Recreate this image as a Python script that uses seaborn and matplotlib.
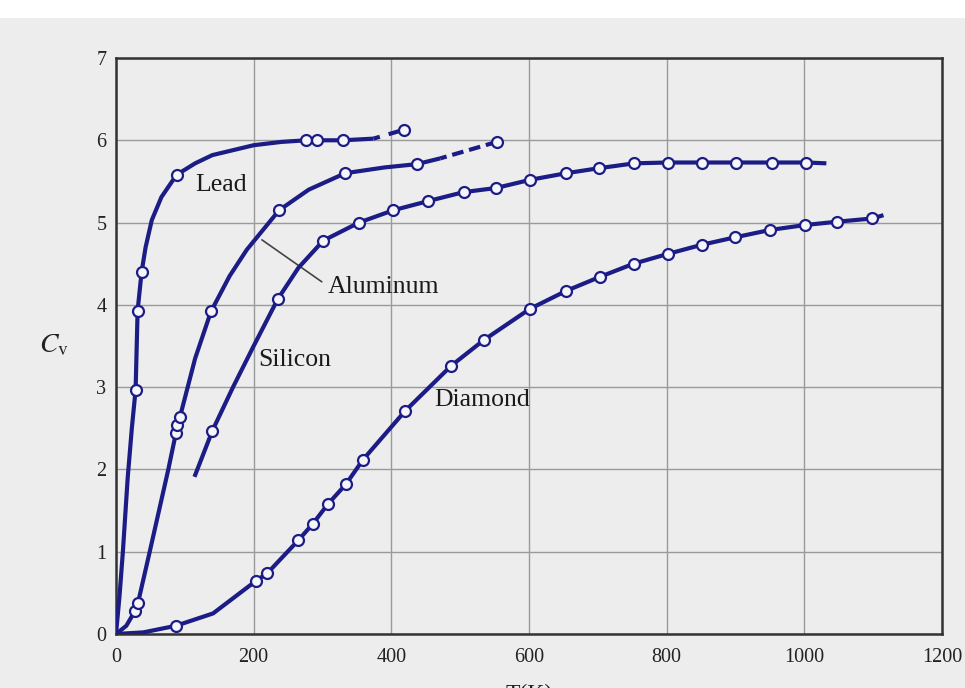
import matplotlib
matplotlib.use("Agg")
import matplotlib.pyplot as plt
from matplotlib.patches import Rectangle
import seaborn as sns
import pandas as pd

# ---------------- data ----------------
T_ticks = [0, 200, 400, 600, 800, 1000, 1200]
C_ticks = [0, 1, 2, 3, 4, 5, 6, 7]

# Lead
lead_curve_T = [0, 5, 10, 17, 23, 28.5, 31.4, 37.2, 43, 52, 66, 88, 115, 140, 200, 240, 276, 292, 330, 374]
lead_curve_C = [0, 0.45, 1.0, 1.9, 2.5, 2.97, 3.93, 4.40, 4.70, 5.03, 5.31, 5.58, 5.72, 5.82, 5.94, 5.98, 6.0, 6.0, 6.0, 6.02]
lead_dash_T = [374, 419]
lead_dash_C = [6.02, 6.13]
lead_pts_T = [28.5, 31.4, 37.2, 88, 276, 292, 330, 419]
lead_pts_C = [2.97, 3.93, 4.40, 5.58, 6.0, 6.0, 6.0, 6.13]

# Aluminum
al_curve_T = [0, 15, 27.6, 32, 49, 76, 87, 89, 93, 115, 138, 165, 190, 237, 280, 333, 390, 437, 471]
al_curve_C = [0, 0.1, 0.28, 0.38, 1.0, 2.0, 2.44, 2.54, 2.64, 3.35, 3.92, 4.35, 4.67, 5.15, 5.40, 5.60, 5.67, 5.71, 5.78]
al_dash_T = [471, 553]
al_dash_C = [5.78, 5.98]
al_pts_T = [27.6, 32, 87, 89, 93, 138, 237, 333, 437, 553]
al_pts_C = [0.28, 0.38, 2.44, 2.54, 2.64, 3.92, 5.15, 5.60, 5.71, 5.98]

# Silicon
si_curve_T = [114, 140, 170, 200, 235, 265, 301, 353, 403, 453, 505, 552, 602, 654, 701, 753, 802, 851, 901, 953, 1003, 1032]
si_curve_C = [1.91, 2.47, 3.0, 3.5, 4.07, 4.45, 4.78, 5.0, 5.15, 5.26, 5.37, 5.42, 5.52, 5.60, 5.66, 5.72, 5.73, 5.73, 5.73, 5.73, 5.73, 5.72]
si_pts_T = [140, 235, 301, 353, 403, 453, 505, 552, 602, 654, 701, 753, 802, 851, 901, 953, 1003]
si_pts_C = [2.47, 4.07, 4.78, 5.0, 5.15, 5.26, 5.37, 5.42, 5.52, 5.60, 5.66, 5.72, 5.73, 5.73, 5.73, 5.73, 5.73]

# Diamond
di_curve_T = [0, 40, 87, 141, 204, 220, 265, 286, 308, 334, 359, 420, 487, 534, 601, 654, 703, 752, 802, 851, 899, 950, 1001, 1047, 1099, 1115]
di_curve_C = [0, 0.02, 0.10, 0.25, 0.65, 0.74, 1.14, 1.34, 1.58, 1.82, 2.12, 2.71, 3.26, 3.57, 3.95, 4.17, 4.34, 4.50, 4.62, 4.73, 4.82, 4.91, 4.97, 5.01, 5.05, 5.09]
di_pts_T = [87, 204, 220, 265, 286, 308, 334, 359, 420, 487, 534, 601, 654, 703, 752, 802, 851, 899, 950, 1001, 1047, 1099]
di_pts_C = [0.10, 0.65, 0.74, 1.14, 1.34, 1.58, 1.82, 2.12, 2.71, 3.26, 3.57, 3.95, 4.17, 4.34, 4.50, 4.62, 4.73, 4.82, 4.91, 4.97, 5.01, 5.05]

# labels
labels = ["Lead", "Aluminum", "Silicon", "Diamond"]
label_T = [115, 307, 206, 463]
label_C = [5.46, 4.22, 3.33, 2.84]
al_leader_T = [212, 299]
al_leader_C = [4.79, 4.28]

# ---------------- style ----------------
sns.set_theme(style="white")
plt.rcParams["font.family"] = ["Liberation Serif", "DejaVu Serif"]
plt.rcParams["mathtext.fontset"] = "stix"

BG = "#ededed"
LINE = "#1c1c86"
FACE = "#f6f6fa"

fig = plt.figure(figsize=(9.65, 6.88), dpi=100, facecolor=BG)
fig.add_artist(Rectangle((0, 1 - 18 / 688), 1, 18 / 688, transform=fig.transFigure,
                         facecolor="white", edgecolor="none", zorder=0))
ax = fig.add_axes([116 / 965, 1 - 634 / 688, (942 - 116) / 965, (634 - 58) / 688])
ax.set_facecolor(BG)

lw = 3.0
curves = [
    (lead_curve_T, lead_curve_C),
    (al_curve_T, al_curve_C),
    (si_curve_T, si_curve_C),
    (di_curve_T, di_curve_C),
]
for tt, cc in curves:
    df = pd.DataFrame({"T": tt, "C": cc})
    sns.lineplot(data=df, x="T", y="C", sort=False, estimator=None, ax=ax,
                 color=LINE, lw=lw, solid_capstyle="butt", zorder=3)

df = pd.DataFrame({"T": lead_dash_T, "C": lead_dash_C})
sns.lineplot(data=df, x="T", y="C", sort=False, estimator=None, ax=ax,
             color=LINE, lw=lw, linestyle=(2.2, (3.8, 2.2)), dash_capstyle="butt", zorder=3)
df = pd.DataFrame({"T": al_dash_T, "C": al_dash_C})
sns.lineplot(data=df, x="T", y="C", sort=False, estimator=None, ax=ax,
             color=LINE, lw=lw, linestyle=(1.2, (2.8, 1.4)), dash_capstyle="butt", zorder=3)

pts = [
    (lead_pts_T, lead_pts_C),
    (al_pts_T, al_pts_C),
    (si_pts_T, si_pts_C),
    (di_pts_T, di_pts_C),
]
for tt, cc in pts:
    df = pd.DataFrame({"T": tt, "C": cc})
    sns.scatterplot(data=df, x="T", y="C", ax=ax, s=62, marker="o",
                    facecolor=FACE, edgecolor=LINE, linewidth=1.6, zorder=4)

ax.plot(al_leader_T, al_leader_C, color="#444444", lw=1.2, zorder=2)
for lab, tx, cy in zip(labels, label_T, label_C):
    ax.text(tx, cy, lab, fontsize=18.5, color="#1a1a1a", ha="left", va="center", zorder=5)

ax.set_xlim(0, 1200)
ax.set_ylim(0, 7)
ax.set_xticks(T_ticks)
ax.set_yticks(C_ticks)
ax.set_xticklabels([str(v) for v in T_ticks])
ax.set_yticklabels([str(v) for v in C_ticks])
ax.tick_params(axis="both", length=0, labelsize=14.5, labelcolor="#222222")
ax.tick_params(axis="x", pad=10)
ax.tick_params(axis="y", pad=7)
ax.grid(True, color="#9a9a9a", lw=1.0, zorder=0)
ax.set_axisbelow(True)
for sp in ax.spines.values():
    sp.set_color("#333333")
    sp.set_linewidth(1.8)
    sp.set_visible(True)

ax.set_xlabel("T(K)", fontsize=17, color="#222222", labelpad=12)
ax.set_ylabel("")
ax.text(-0.075, 0.5, r"$C_{\mathrm{v}}$", transform=ax.transAxes, fontsize=20,
        color="#222222", ha="center", va="center")

fig.savefig("out.png", dpi=100, facecolor=BG)
